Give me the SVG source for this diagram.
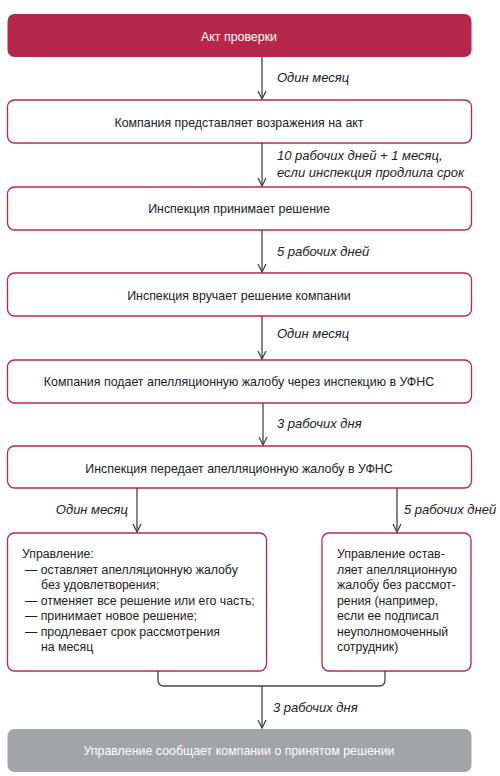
<svg xmlns="http://www.w3.org/2000/svg" width="500" height="776" viewBox="0 0 500 776">
<style>
.box{fill:#fff;stroke:#b5284a;stroke-width:1.3}
.t{font-family:"Liberation Sans",Arial,sans-serif;font-size:12.4px;fill:#222}
.s{font-size:12.3px}
.c{text-anchor:middle}
.lbl{font-family:"Liberation Sans",Arial,sans-serif;font-size:13px;font-style:italic;fill:#222}
.ln{fill:none;stroke:#444;stroke-width:1.3}
</style>
<defs>
<marker id="ah" viewBox="0 0 10 10" refX="9" refY="5" markerWidth="10" markerHeight="10" markerUnits="userSpaceOnUse" orient="auto">
<path d="M1 1 L9 5 L1 9" fill="none" stroke="#444" stroke-width="1.3"/>
</marker>
</defs>
<rect width="500" height="776" fill="#fff"/>
<g id="n1"><rect x="7.5" y="14" width="464" height="43" rx="7" fill="#b5284a"/><text class="t c" x="239" y="40.5" style="fill:#fff">Акт проверки</text></g>
<g id="n2"><rect class="box" x="7.5" y="100" width="464" height="43" rx="7"/><text class="t c" x="239" y="126.5">Компания представляет возражения на акт</text></g>
<g id="n3"><rect class="box" x="7.5" y="187" width="464" height="43" rx="7"/><text class="t c" x="239" y="212.5">Инспекция принимает решение</text></g>
<g id="n4"><rect class="box" x="7.5" y="273" width="464" height="43" rx="7"/><text class="t c" x="239" y="299.5">Инспекция вручает решение компании</text></g>
<g id="n5"><rect class="box" x="7.5" y="360" width="464" height="43" rx="7"/><text class="t c" x="239" y="385.5">Компания подает апелляционную жалобу через инспекцию в УФНС</text></g>
<g id="n6"><rect class="box" x="7.5" y="446" width="464" height="42" rx="7"/><text class="t c" x="239" y="472.5">Инспекция передает апелляционную жалобу в УФНС</text></g>
<g id="n7"><rect class="box" x="7.5" y="533" width="259" height="138" rx="7"/>
<text class="t s" x="22" y="558">Управление:</text>
<text class="t s" x="25" y="574">— оставляет апелляционную жалобу</text>
<text class="t s" x="41" y="589">без удовлетворения;</text>
<text class="t s" x="25" y="605">— отменяет все решение или его часть;</text>
<text class="t s" x="25" y="620">— принимает новое решение;</text>
<text class="t s" x="25" y="636">— продлевает срок рассмотрения</text>
<text class="t s" x="41" y="651">на месяц</text>
</g>
<g id="n8"><rect class="box" x="322" y="533" width="149" height="138" rx="7"/>
<text class="t s" x="337" y="558">Управление остав-</text>
<text class="t s" x="337" y="574">ляет апелляционную</text>
<text class="t s" x="337" y="589">жалобу без рассмот-</text>
<text class="t s" x="337" y="605">рения (например,</text>
<text class="t s" x="337" y="620">если ее подписал</text>
<text class="t s" x="337" y="636">неуполномоченный</text>
<text class="t s" x="337" y="651">сотрудник)</text>
</g>
<g id="n9"><rect x="7.5" y="729" width="464" height="43" rx="7" fill="#a3a4a8"/><text class="t c" x="239" y="755" style="fill:#fff">Управление сообщает компании о принятом решении</text></g>
<g id="connectors">
<line class="ln" x1="262" y1="57" x2="262" y2="99" marker-end="url(#ah)"/>
<line class="ln" x1="262" y1="143" x2="262" y2="186" marker-end="url(#ah)"/>
<line class="ln" x1="262" y1="230" x2="262" y2="272" marker-end="url(#ah)"/>
<line class="ln" x1="262" y1="316" x2="262" y2="359" marker-end="url(#ah)"/>
<line class="ln" x1="263" y1="403" x2="263" y2="445" marker-end="url(#ah)"/>
<line class="ln" x1="137" y1="488" x2="137" y2="532" marker-end="url(#ah)"/>
<line class="ln" x1="397" y1="488" x2="397" y2="532" marker-end="url(#ah)"/>
<path class="ln" d="M158 671 V680 Q158 686 164 686 H379 Q385 686 385 680 V671"/>
<line class="ln" x1="262" y1="686" x2="262" y2="728" marker-end="url(#ah)"/>
<text class="lbl" x="277" y="82">Один месяц</text>
<text class="lbl" x="277" y="160">10 рабочих дней + 1 месяц,</text>
<text class="lbl" x="277" y="177">если инспекция продлила срок</text>
<text class="lbl" x="277" y="256">5 рабочих дней</text>
<text class="lbl" x="277" y="338">Один месяц</text>
<text class="lbl" x="277" y="428">3 рабочих дня</text>
<text class="lbl" x="128" y="514" text-anchor="end">Один месяц</text>
<text class="lbl" x="404" y="514">5 рабочих дней</text>
<text class="lbl" x="273" y="712">3 рабочих дня</text>
</g>
</svg>
